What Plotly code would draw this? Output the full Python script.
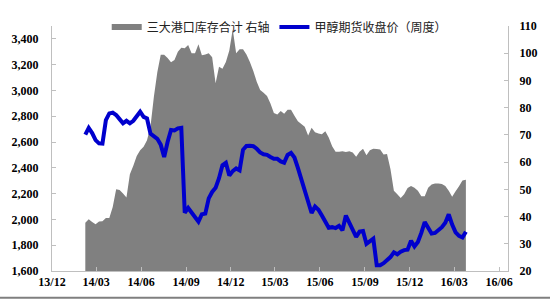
import pandas as pd
import plotly.graph_objects as go

# weekly dates
start_date = "2014-02-07"
n_weeks = 112
dates = pd.date_range(start_date, periods=n_weeks, freq="7D")

# 三大港口库存合计 (right axis)
inventory = [
    37.7, 39.0, 38.0, 37.2, 38.2, 38.3, 39.5, 39.5, 43.5, 50.0,
    49.8, 48.5, 47.0, 55.5, 58.7, 62.2, 64.4, 65.6, 68.0, 73.0,
    84.0, 93.0, 99.4, 99.4, 98.2, 96.7, 97.5, 100.5, 102.0, 101.8,
    103.0, 100.0, 100.0, 103.3, 99.3, 99.5, 100.0, 98.5, 89.0, 95.0,
    94.3, 96.8, 101.0, 108.8, 100.0, 101.5, 101.5, 99.5, 96.8, 93.5,
    89.5, 86.5, 85.5, 84.3, 81.5, 78.0, 77.5, 78.8, 77.8, 79.2,
    79.2, 77.0, 75.0, 74.0, 73.0, 69.8, 72.6, 71.0, 70.5, 70.2,
    71.3, 69.0, 65.8, 63.8, 63.8, 64.0, 63.7, 64.0, 63.5, 62.0,
    63.8, 64.9, 62.5, 64.4, 64.9, 64.8, 64.6, 62.8, 63.0, 57.5,
    49.5, 48.2, 46.8, 48.2, 50.5, 51.2, 50.6, 49.5, 47.5, 47.5,
    50.6, 51.8, 52.1, 52.1, 52.0, 51.2, 49.5, 47.3, 49.3, 51.1,
    53.2, 53.5,
]

# 甲醇期货收盘价（周度） (left axis)
price = [
    2657, 2710, 2670, 2615, 2590, 2588, 2770, 2822, 2828, 2810,
    2778, 2745, 2765, 2745, 2765, 2800, 2835, 2795, 2783, 2665,
    2640, 2625, 2580, 2484, 2600, 2694, 2690, 2706, 2710, 2052,
    2089, 2050, 2020, 1983, 2040, 2045, 2163, 2213, 2245, 2320,
    2420, 2439, 2340, 2375, 2395, 2380, 2540, 2570, 2572, 2568,
    2548, 2520, 2505, 2501, 2484, 2470, 2470, 2450, 2440, 2500,
    2516, 2480, 2400, 2315, 2240, 2155, 2050, 2100, 2075, 2030,
    1980, 1935, 1940, 1933, 1950, 1916, 2030, 1975, 1915, 1865,
    1905, 1910, 1810, 1835, 1850, 1645, 1644, 1660, 1680, 1708,
    1745, 1730, 1750, 1762, 1765, 1835, 1790, 1825, 1895, 1980,
    1935, 1890, 1895, 1915, 1940, 1975, 2040, 1960, 1900, 1872,
    1860, 1905,
]

series_names = ["三大港口库存合计 右轴", "甲醇期货收盘价（周度）"]
x_range = ["2013-12-01", "2016-06-19"]
left_range = [1600, 3500]
right_range = [20, 110]
left_ticks = list(range(1600, 3401, 200))
right_ticks = list(range(20, 111, 10))

tickfont = dict(family="Liberation Serif", size=12, color="black", weight="bold")
axis_color = "#bfbfbf"

fig = go.Figure()
fig.add_trace(go.Scatter(
    x=dates, y=inventory, name=series_names[0], mode="none",
    fill="tozeroy", fillcolor="#808080", yaxis="y",
))
fig.add_trace(go.Scatter(
    x=dates, y=price, name=series_names[1], mode="lines",
    line=dict(color="#0000cd", width=4), yaxis="y2",
))

fig.update_layout(
    width=550, height=300,
    margin=dict(l=52, r=42, t=14, b=29),
    paper_bgcolor="white", plot_bgcolor="white",
    font=dict(family="Noto Sans CJK SC", size=12, color="black"),
    showlegend=True,
    legend=dict(
        orientation="h", x=0.12, y=1.055, xanchor="left", yanchor="top",
        font=dict(family="Noto Sans CJK SC", size=12, color="#222"),
        bgcolor="rgba(0,0,0,0)", itemwidth=30, tracegroupgap=0,
    ),
    xaxis=dict(
        type="date", range=x_range, tick0="2013-12-01", dtick="M3",
        tickformat="%y/%m", showgrid=False, zeroline=False,
        showline=True, linecolor=axis_color, linewidth=1,
        ticks="inside", ticklen=4, tickcolor=axis_color,
        tickfont=tickfont,
    ),
    yaxis=dict(
        side="right", range=right_range, tickvals=right_ticks,
        showgrid=False, zeroline=False, showline=True,
        linecolor=axis_color, linewidth=1, ticks="inside", ticklen=4,
        tickcolor=axis_color, tickfont=tickfont, ticklabelstandoff=8,
    ),
    yaxis2=dict(
        side="left", overlaying="y", range=left_range, tickvals=left_ticks,
        tickformat=",d", showgrid=False, zeroline=False, showline=True,
        linecolor=axis_color, linewidth=1, ticks="inside", ticklen=4,
        tickcolor=axis_color, tickfont=tickfont, ticklabelstandoff=10,
    ),
    shapes=[dict(type="line", xref="paper", yref="paper",
                 x0=-0.2, x1=1.2, y0=-0.109, y1=-0.109,
                 line=dict(color="#7f7f7f", width=2))],
)

fig.write_html("out.html")
